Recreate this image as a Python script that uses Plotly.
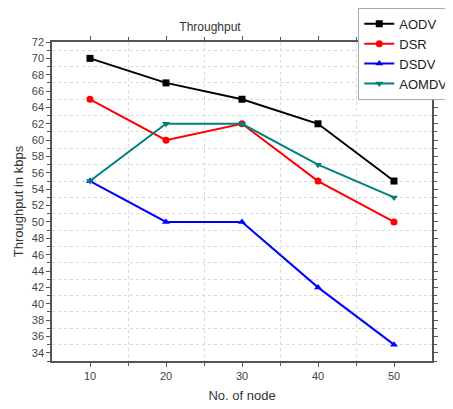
import plotly.graph_objects as go

nodes = [10, 20, 30, 40, 50]
aodv = [70, 67, 65, 62, 55]
dsr = [65, 60, 62, 55, 50]
dsdv = [55, 50, 50, 42, 35]
aomdv = [55, 62, 62, 57, 53]

series = [
    ("AODV", aodv, "#000000", "square"),
    ("DSR", dsr, "#ff0000", "circle"),
    ("DSDV", dsdv, "#0000ff", "triangle-up"),
    ("AOMDV", aomdv, "#008080", "triangle-down"),
]

fig = go.Figure()
for name, vals, col, sym in series:
    fig.add_trace(go.Scatter(x=nodes, y=vals, name=name, mode="lines+markers",
                             line=dict(color=col, width=2),
                             marker=dict(symbol=sym, size=7, color=col)))

axis_common = dict(showline=True, linecolor="#555555", linewidth=1.5, mirror="allticks",
                   ticks="outside", ticklen=4, tickcolor="#555555", showgrid=False,
                   zeroline=False, tickfont=dict(family="Liberation Sans", size=11, color="#444444"))

fig.update_xaxes(range=[5, 55], tickvals=[10, 20, 30, 40, 50],
                 minor=dict(tickvals=[15, 25, 35, 45], ticks="outside", ticklen=3,
                            tickcolor="#555555", showgrid=True, gridcolor="#d9d9d9",
                            griddash="dot", gridwidth=1),
                 title=dict(text="No. of node", font=dict(family="Liberation Sans", size=13, color="#333333"), standoff=10),
                 **axis_common)
fig.update_yaxes(range=[33, 72], tickvals=list(range(34, 73, 2)),
                 minor=dict(tickvals=list(range(33, 72, 2)), ticks="outside", ticklen=3,
                            tickcolor="#555555", showgrid=True, gridcolor="#d9d9d9",
                            griddash="dot", gridwidth=1),
                 title=dict(text="Throughput in kbps", font=dict(family="Liberation Sans", size=13, color="#333333"), standoff=5),
                 **axis_common)

fig.update_layout(
    width=445, height=401,
    margin=dict(l=44, r=21, t=34, b=48, autoexpand=False),
    paper_bgcolor="white", plot_bgcolor="white",
    title=dict(text="Throughput", x=202 / 445, xanchor="center", y=1 - 19 / 401, yanchor="middle",
               font=dict(family="Liberation Sans", size=12, color="#333333")),
    legend=dict(x=0.806, y=1.107, xanchor="left", yanchor="top",
                bgcolor="white", bordercolor="#aaaaaa", borderwidth=1,
                font=dict(family="Liberation Sans", size=13, color="#222222"),
                tracegroupgap=0, itemwidth=30),
    showlegend=True,
)

fig.write_html("out.html")
